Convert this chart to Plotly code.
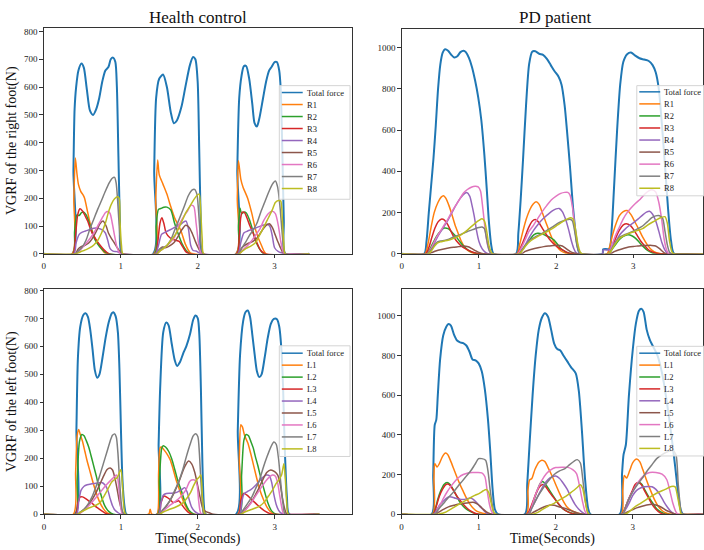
import plotly.graph_objects as go

W, H = 704, 550
SERIF = "Liberation Serif, Times New Roman, serif"
COLORS = ["#1f77b4", "#ff7f0e", "#2ca02c", "#d62728", "#9467bd",
          "#8c564b", "#e377c2", "#7f7f7f", "#bcbd22"]

RIGHT_NAMES = ["Total force", "R1", "R2", "R3", "R4", "R5", "R6", "R7", "R8"]
LEFT_NAMES = ["Total force", "L1", "L2", "L3", "L4", "L5", "L6", "L7", "L8"]
X_TICKS = [0, 1, 2, 3]

# ---------------- Health control, right foot (time s, force N) ----------------
HC_R_END = 3.45
HC_R_TOTAL = [(0.37,0),(0.385,300),(0.40,520),(0.42,600),(0.45,660),(0.49,685),(0.52,670),(0.56,590),(0.60,515),(0.64,500),(0.68,520),(0.72,560),(0.76,620),(0.80,660),(0.84,672),(0.87,700),(0.90,706),(0.93,690),(0.95,600),(0.97,350),(0.99,120),(1.02,0),
              (1.42,0),(1.435,300),(1.46,560),(1.50,630),(1.55,645),(1.60,600),(1.65,510),(1.69,470),(1.73,480),(1.79,530),(1.84,600),(1.90,680),(1.94,708),(1.97,700),(2.00,620),(2.02,380),(2.04,120),(2.06,0),
              (2.50,0),(2.515,300),(2.54,560),(2.57,640),(2.60,675),(2.63,676),(2.67,630),(2.71,540),(2.74,470),(2.77,458),(2.80,485),(2.85,560),(2.89,620),(2.93,660),(2.96,672),(3.00,690),(3.03,690),(3.06,660),(3.08,590),(3.10,380),(3.12,120),(3.14,0)]
HC_R1 = [(0.37,0),(0.39,200),(0.41,345),(0.43,290),(0.45,250),(0.48,225),(0.51,212),(0.53,200),(0.57,150),(0.61,100),(0.66,60),(0.71,35),(0.75,18),(0.81,0),
         (1.43,0),(1.455,200),(1.48,338),(1.50,285),(1.55,250),(1.60,215),(1.65,170),(1.70,130),(1.78,85),(1.84,35),(1.90,5),(1.95,0),
         (2.50,0),(2.515,200),(2.53,335),(2.56,270),(2.59,240),(2.65,200),(2.70,150),(2.76,80),(2.83,30),(2.89,0)]
HC_R2 = [(0.38,0),(0.40,80),(0.43,140),(0.46,138),(0.49,148),(0.52,150),(0.55,140),(0.58,120),(0.61,95),(0.65,60),(0.70,35),(0.75,18),(0.80,5),(0.85,0),
         (1.44,0),(1.46,100),(1.49,160),(1.52,163),(1.56,168),(1.60,168),(1.65,158),(1.70,110),(1.75,70),(1.80,35),(1.85,12),(1.90,0),
         (2.51,0),(2.53,100),(2.55,165),(2.57,145),(2.60,150),(2.63,148),(2.67,125),(2.71,90),(2.75,50),(2.80,20),(2.86,0)]
HC_R3 = [(0.38,0),(0.41,60),(0.44,140),(0.47,162),(0.50,155),(0.54,135),(0.57,118),(0.62,80),(0.68,50),(0.75,25),(0.80,10),(0.85,0),
         (1.45,0),(1.48,40),(1.51,110),(1.535,130),(1.56,110),(1.59,75),(1.64,58),(1.70,50),(1.76,45),(1.80,28),(1.845,8),(1.90,0),
         (2.51,0),(2.54,60),(2.56,130),(2.58,150),(2.61,148),(2.64,130),(2.68,100),(2.72,75),(2.77,40),(2.82,12),(2.88,0)]
HC_R4 = [(0.39,0),(0.42,40),(0.46,70),(0.50,78),(0.54,82),(0.60,88),(0.65,92),(0.70,92),(0.76,86),(0.80,75),(0.83,50),(0.86,20),(0.90,10),(0.95,8),(0.99,3),(1.02,0),
         (1.45,0),(1.49,30),(1.53,70),(1.58,78),(1.63,85),(1.70,95),(1.77,105),(1.82,115),(1.85,118),(1.88,90),(1.91,30),(1.94,12),(1.98,10),(2.02,3),(2.05,0),
         (2.52,0),(2.56,40),(2.60,75),(2.65,82),(2.71,88),(2.78,96),(2.86,104),(2.91,106),(2.94,98),(2.97,65),(3.00,22),(3.05,8),(3.10,3),(3.13,0)]
HC_R5 = [(0.41,0),(0.44,15),(0.48,25),(0.53,30),(0.58,38),(0.63,55),(0.68,80),(0.73,108),(0.77,118),(0.81,100),(0.84,75),(0.88,55),(0.92,38),(0.96,20),(1.00,5),(1.03,0),
         (1.47,0),(1.50,15),(1.54,25),(1.58,22),(1.63,28),(1.69,40),(1.74,60),(1.79,85),(1.845,103),(1.89,95),(1.93,73),(1.97,45),(2.00,26),(2.03,10),(2.06,0),
         (2.54,0),(2.57,20),(2.61,30),(2.66,38),(2.72,45),(2.78,60),(2.84,85),(2.89,102),(2.93,108),(2.97,95),(3.01,67),(3.04,45),(3.07,26),(3.10,8),(3.13,0)]
HC_R6 = [(0.42,0),(0.46,10),(0.50,22),(0.55,38),(0.60,55),(0.65,75),(0.70,100),(0.75,125),(0.80,148),(0.83,152),(0.86,146),(0.89,110),(0.92,65),(0.95,25),(0.98,5),(1.00,0),
         (1.47,0),(1.52,12),(1.58,25),(1.64,40),(1.70,60),(1.76,105),(1.82,135),(1.87,155),(1.91,175),(1.95,170),(1.98,110),(2.01,40),(2.04,5),(2.06,0),
         (2.54,0),(2.59,15),(2.65,30),(2.71,50),(2.76,70),(2.81,90),(2.86,120),(2.92,145),(2.97,153),(3.01,145),(3.05,100),(3.08,45),(3.11,8),(3.13,0)]
HC_R7 = [(0.41,0),(0.45,10),(0.50,25),(0.55,50),(0.60,90),(0.65,125),(0.70,160),(0.75,192),(0.80,225),(0.85,255),(0.89,272),(0.92,275),(0.94,255),(0.96,190),(0.98,100),(1.00,30),(1.02,0),
         (1.47,0),(1.50,15),(1.55,22),(1.60,30),(1.65,50),(1.70,85),(1.76,125),(1.82,167),(1.88,210),(1.93,230),(1.96,232),(1.99,215),(2.01,160),(2.03,80),(2.05,20),(2.07,0),
         (2.53,0),(2.57,20),(2.62,40),(2.67,65),(2.72,85),(2.77,110),(2.82,150),(2.87,185),(2.92,220),(2.97,250),(3.01,262),(3.04,240),(3.07,170),(3.10,70),(3.12,15),(3.14,0)]
HC_R8 = [(0.42,0),(0.46,5),(0.50,10),(0.55,15),(0.60,22),(0.65,32),(0.70,48),(0.75,75),(0.80,110),(0.84,150),(0.88,180),(0.92,198),(0.96,205),(0.98,200),(0.99,120),(1.01,30),(1.03,0),
         (1.47,0),(1.50,8),(1.55,18),(1.60,30),(1.65,48),(1.70,65),(1.75,90),(1.80,120),(1.85,150),(1.90,172),(1.95,195),(1.99,210),(2.02,215),(2.04,150),(2.06,50),(2.08,0),
         (2.54,0),(2.58,10),(2.63,20),(2.69,28),(2.75,40),(2.80,65),(2.86,97),(2.92,130),(2.97,158),(3.01,185),(3.05,192),(3.08,190),(3.10,130),(3.12,40),(3.14,0)]

# ---------------- PD patient, right foot ----------------
PD_R_END = 3.95
PD_R_TOTAL = [(0.29,0),(0.32,60),(0.35,200),(0.38,330),(0.41,460),(0.44,620),(0.47,800),(0.50,920),(0.53,975),(0.56,992),(0.60,985),(0.64,965),(0.68,952),(0.72,958),(0.76,978),(0.80,985),(0.83,978),(0.87,950),(0.91,905),(0.95,840),(0.99,760),(1.03,650),(1.07,480),(1.10,320),(1.13,150),(1.16,40),(1.19,0),
              (1.48,0),(1.51,100),(1.54,260),(1.57,450),(1.61,720),(1.65,920),(1.69,980),(1.73,982),(1.78,970),(1.83,965),(1.88,945),(1.93,915),(1.98,885),(2.03,860),(2.07,820),(2.11,720),(2.14,600),(2.18,420),(2.22,220),(2.26,80),(2.29,15),(2.32,0),
              (2.60,0),(2.61,22),(2.69,25),(2.72,120),(2.75,320),(2.79,600),(2.83,820),(2.87,930),(2.92,968),(2.97,976),(3.02,962),(3.08,948),(3.14,942),(3.20,935),(3.25,915),(3.29,880),(3.33,800),(3.37,630),(3.41,430),(3.45,220),(3.49,60),(3.53,0)]
PD_R1 = [(0.30,0),(0.34,50),(0.38,130),(0.42,200),(0.47,250),(0.51,275),(0.54,282),(0.57,270),(0.61,235),(0.65,190),(0.69,140),(0.73,100),(0.77,62),(0.81,35),(0.86,15),(0.92,4),(0.97,0),
         (1.49,0),(1.53,50),(1.57,110),(1.61,165),(1.66,215),(1.70,240),(1.74,252),(1.78,240),(1.82,200),(1.87,150),(1.92,100),(1.96,65),(2.01,35),(2.06,15),(2.12,4),(2.18,0),
         (2.66,0),(2.69,30),(2.73,90),(2.77,140),(2.82,185),(2.87,205),(2.92,210),(2.97,190),(3.02,155),(3.07,120),(3.12,82),(3.18,45),(3.24,18),(3.30,5),(3.36,0)]
PD_R2 = [(0.32,0),(0.36,20),(0.40,50),(0.45,85),(0.50,110),(0.55,125),(0.60,122),(0.65,105),(0.70,85),(0.75,60),(0.80,38),(0.86,18),(0.92,7),(1.00,0),
         (1.52,0),(1.56,20),(1.61,45),(1.66,70),(1.71,92),(1.76,100),(1.81,98),(1.86,90),(1.92,80),(1.97,68),(2.02,45),(2.07,22),(2.13,8),(2.20,0),
         (2.68,0),(2.72,20),(2.77,45),(2.82,70),(2.87,85),(2.93,92),(2.98,88),(3.03,75),(3.08,55),(3.13,35),(3.19,15),(3.25,4),(3.30,0)]
PD_R3 = [(0.31,0),(0.35,30),(0.39,80),(0.43,125),(0.47,155),(0.51,168),(0.55,165),(0.59,145),(0.63,115),(0.67,85),(0.71,62),(0.76,42),(0.80,30),(0.86,18),(0.92,8),(1.00,0),
         (1.50,0),(1.54,30),(1.59,75),(1.64,125),(1.69,158),(1.73,166),(1.77,155),(1.82,125),(1.87,95),(1.92,68),(1.97,48),(2.03,30),(2.09,18),(2.15,6),(2.20,0),
         (2.68,0),(2.72,30),(2.77,75),(2.82,115),(2.87,140),(2.91,146),(2.96,138),(3.00,120),(3.05,90),(3.10,60),(3.15,38),(3.20,18),(3.27,6),(3.35,0)]
PD_R4 = [(0.34,0),(0.38,20),(0.42,50),(0.46,80),(0.50,105),(0.55,135),(0.60,165),(0.65,200),(0.70,235),(0.75,265),(0.80,288),(0.84,297),(0.88,280),(0.91,235),(0.94,180),(0.97,110),(1.00,60),(1.04,25),(1.08,8),(1.12,0),
         (1.52,0),(1.56,20),(1.61,50),(1.66,85),(1.71,115),(1.77,145),(1.83,170),(1.89,190),(1.95,208),(2.00,218),(2.04,220),(2.08,205),(2.12,170),(2.16,120),(2.20,60),(2.23,25),(2.26,5),(2.29,0),
         (2.60,0),(2.61,18),(2.69,20),(2.73,40),(2.78,65),(2.83,95),(2.88,115),(2.94,135),(3.00,150),(3.06,168),(3.12,188),(3.17,202),(3.21,206),(3.25,192),(3.29,160),(3.33,110),(3.37,55),(3.41,18),(3.45,0)]
PD_R5 = [(0.35,0),(0.40,8),(0.45,15),(0.50,20),(0.56,25),(0.62,29),(0.68,32),(0.74,35),(0.80,38),(0.86,34),(0.91,25),(0.96,14),(1.01,5),(1.06,0),
         (1.55,0),(1.60,12),(1.66,20),(1.72,26),(1.78,31),(1.84,35),(1.90,38),(1.96,40),(2.02,42),(2.08,38),(2.13,25),(2.18,12),(2.23,4),(2.28,0),
         (2.70,0),(2.76,12),(2.82,20),(2.88,27),(2.94,33),(3.00,36),(3.06,38),(3.12,40),(3.18,41),(3.24,41),(3.29,38),(3.34,25),(3.39,8),(3.43,0)]
PD_R6 = [(0.33,0),(0.37,20),(0.41,50),(0.45,80),(0.50,110),(0.55,140),(0.60,170),(0.65,205),(0.70,235),(0.75,265),(0.80,295),(0.85,312),(0.90,323),(0.95,328),(0.99,325),(1.02,305),(1.05,220),(1.08,120),(1.11,45),(1.14,10),(1.17,0),
         (1.50,0),(1.55,30),(1.60,70),(1.65,110),(1.70,135),(1.76,170),(1.82,205),(1.88,235),(1.94,262),(2.00,280),(2.06,293),(2.11,298),(2.15,298),(2.18,285),(2.21,230),(2.24,140),(2.27,50),(2.30,10),(2.33,0),
         (2.68,0),(2.72,40),(2.77,90),(2.82,130),(2.87,170),(2.92,200),(2.97,222),(3.03,245),(3.09,265),(3.15,290),(3.20,305),(3.25,310),(3.29,300),(3.33,250),(3.37,160),(3.40,70),(3.43,20),(3.46,0)]
PD_R7 = [(0.33,0),(0.37,15),(0.41,35),(0.45,55),(0.50,62),(0.55,65),(0.60,70),(0.65,78),(0.70,85),(0.75,92),(0.80,100),(0.85,108),(0.90,115),(0.95,122),(1.00,128),(1.04,130),(1.07,122),(1.10,70),(1.13,20),(1.16,0),
         (1.52,0),(1.56,20),(1.61,45),(1.66,67),(1.72,80),(1.78,92),(1.84,104),(1.90,118),(1.96,132),(2.02,148),(2.08,158),(2.13,165),(2.18,168),(2.21,160),(2.24,110),(2.27,40),(2.30,5),(2.33,0),
         (2.68,0),(2.72,25),(2.77,55),(2.82,80),(2.88,92),(2.94,100),(3.00,110),(3.06,122),(3.12,135),(3.18,155),(3.24,175),(3.29,184),(3.34,185),(3.38,172),(3.41,110),(3.44,45),(3.47,8),(3.50,0)]
PD_R8 = [(0.34,0),(0.38,12),(0.42,35),(0.46,52),(0.50,58),(0.55,62),(0.60,66),(0.65,72),(0.70,80),(0.75,88),(0.80,100),(0.85,115),(0.90,132),(0.95,148),(1.00,162),(1.04,170),(1.07,160),(1.10,110),(1.13,40),(1.16,8),(1.18,0),
         (1.52,0),(1.56,15),(1.61,40),(1.66,60),(1.72,75),(1.78,88),(1.84,100),(1.90,112),(1.96,125),(2.02,140),(2.08,155),(2.14,168),(2.19,175),(2.22,168),(2.25,120),(2.28,50),(2.31,10),(2.34,0),
         (2.68,0),(2.72,20),(2.77,50),(2.82,75),(2.88,88),(2.94,98),(3.00,106),(3.06,114),(3.12,122),(3.18,138),(3.24,152),(3.30,165),(3.36,176),(3.41,180),(3.44,150),(3.47,60),(3.50,10),(3.53,0)]

# ---------------- Health control, left foot ----------------
HC_L_END = 3.58
HC_L_TOTAL = [(0.40,0),(0.42,300),(0.44,560),(0.47,670),(0.51,712),(0.54,718),(0.57,705),(0.60,660),(0.63,590),(0.66,515),(0.69,488),(0.72,500),(0.76,560),(0.80,630),(0.84,685),(0.88,718),(0.90,722),(0.93,708),(0.96,650),(0.98,520),(1.00,300),(1.02,120),(1.05,20),(1.07,0),
              (1.47,0),(1.49,250),(1.51,450),(1.55,650),(1.59,685),(1.62,675),(1.66,610),(1.70,550),(1.73,530),(1.77,545),(1.81,575),(1.85,600),(1.90,645),(1.94,695),(1.97,710),(2.00,700),(2.02,640),(2.04,450),(2.06,180),(2.08,30),(2.10,0),
              (2.50,0),(2.52,300),(2.55,570),(2.59,690),(2.62,722),(2.65,728),(2.68,705),(2.71,640),(2.74,570),(2.77,510),(2.80,490),(2.83,500),(2.87,560),(2.91,630),(2.95,680),(2.99,698),(3.03,697),(3.06,670),(3.09,580),(3.11,450),(3.13,250),(3.16,60),(3.19,0)]
HC_L1 = [(0.38,0),(0.41,150),(0.43,280),(0.45,303),(0.47,285),(0.50,260),(0.53,225),(0.56,190),(0.60,150),(0.64,110),(0.68,75),(0.72,45),(0.77,20),(0.82,5),(0.86,0),
         (1.36,0),(1.38,18),(1.40,0),
         (1.47,0),(1.49,150),(1.51,238),(1.53,240),(1.56,230),(1.60,215),(1.64,195),(1.68,160),(1.72,120),(1.77,80),(1.82,40),(1.87,15),(1.92,3),(1.95,0),
         (2.52,0),(2.54,200),(2.56,320),(2.58,312),(2.61,280),(2.65,255),(2.69,215),(2.73,170),(2.77,125),(2.81,85),(2.85,55),(2.90,25),(2.95,8),(3.00,0)]
HC_L2 = [(0.41,0),(0.43,120),(0.46,260),(0.49,285),(0.52,280),(0.55,262),(0.58,240),(0.61,210),(0.64,178),(0.68,135),(0.71,100),(0.75,60),(0.79,30),(0.84,10),(0.90,0),
         (1.48,0),(1.50,120),(1.53,235),(1.55,245),(1.58,240),(1.62,225),(1.66,198),(1.70,160),(1.74,120),(1.79,80),(1.84,38),(1.89,12),(1.95,0),
         (2.54,0),(2.57,140),(2.60,265),(2.63,285),(2.66,280),(2.69,260),(2.72,238),(2.75,205),(2.78,175),(2.82,130),(2.86,90),(2.91,42),(2.96,12),(3.02,0)]
HC_L3 = [(0.41,0),(0.44,40),(0.47,62),(0.50,62),(0.54,56),(0.58,48),(0.62,40),(0.66,30),(0.70,22),(0.75,12),(0.80,3),(0.84,0),
         (1.49,0),(1.52,40),(1.56,65),(1.60,60),(1.64,52),(1.68,42),(1.72,45),(1.75,48),(1.79,35),(1.83,20),(1.87,8),(1.92,0),
         (2.53,0),(2.56,50),(2.60,75),(2.64,68),(2.68,58),(2.73,45),(2.78,32),(2.83,20),(2.88,10),(2.94,2),(2.98,0)]
HC_L4 = [(0.42,0),(0.45,45),(0.48,85),(0.52,100),(0.56,105),(0.61,108),(0.66,110),(0.71,112),(0.75,113),(0.79,105),(0.83,85),(0.86,55),(0.89,30),(0.92,15),(0.96,6),(1.00,0),
         (1.49,0),(1.52,40),(1.55,68),(1.59,74),(1.64,75),(1.69,76),(1.74,80),(1.79,88),(1.83,95),(1.86,80),(1.89,50),(1.92,25),(1.96,10),(2.00,3),(2.04,0),
         (2.54,0),(2.57,40),(2.60,72),(2.64,80),(2.69,88),(2.74,100),(2.79,115),(2.84,130),(2.89,140),(2.93,138),(2.96,115),(2.99,70),(3.02,35),(3.05,15),(3.08,5),(3.12,0)]
HC_L5 = [(0.44,0),(0.48,8),(0.53,20),(0.58,35),(0.63,55),(0.68,80),(0.73,110),(0.78,140),(0.82,160),(0.86,165),(0.89,158),(0.92,130),(0.95,90),(0.98,45),(1.01,15),(1.04,0),
         (1.50,0),(1.54,10),(1.58,25),(1.63,45),(1.68,70),(1.73,100),(1.78,135),(1.83,170),(1.88,190),(1.92,180),(1.96,150),(2.00,100),(2.03,60),(2.06,25),(2.10,10),(2.15,5),(2.20,0),
         (2.55,0),(2.60,12),(2.66,30),(2.72,55),(2.78,85),(2.84,120),(2.90,150),(2.95,158),(3.00,152),(3.04,140),(3.07,110),(3.10,60),(3.13,20),(3.16,0)]
HC_L6 = [(0.45,0),(0.50,10),(0.56,25),(0.62,42),(0.67,58),(0.72,75),(0.77,92),(0.82,108),(0.87,122),(0.91,133),(0.94,140),(0.96,125),(0.98,70),(1.00,20),(1.02,0),
         (1.50,0),(1.55,12),(1.62,28),(1.69,42),(1.75,55),(1.80,70),(1.85,90),(1.89,115),(1.92,122),(1.96,122),(1.99,105),(2.01,50),(2.03,10),(2.05,0),
         (2.56,0),(2.62,15),(2.68,35),(2.74,60),(2.80,85),(2.86,110),(2.92,130),(2.97,140),(3.01,136),(3.04,110),(3.07,60),(3.10,15),(3.12,0)]
HC_L7 = [(0.43,0),(0.47,8),(0.52,18),(0.57,35),(0.62,60),(0.67,95),(0.72,135),(0.77,180),(0.82,225),(0.86,262),(0.89,282),(0.92,287),(0.94,275),(0.96,220),(0.98,130),(1.00,50),(1.02,10),(1.04,0),
         (1.50,0),(1.54,15),(1.59,30),(1.65,55),(1.70,85),(1.75,115),(1.80,155),(1.85,205),(1.90,250),(1.94,280),(1.97,288),(2.00,278),(2.02,220),(2.04,120),(2.06,40),(2.08,0),
         (2.55,0),(2.59,15),(2.64,35),(2.70,60),(2.75,90),(2.80,120),(2.85,165),(2.90,205),(2.95,240),(2.99,258),(3.02,250),(3.05,200),(3.08,110),(3.11,35),(3.14,0)]
HC_L8 = [(0.44,0),(0.48,8),(0.53,15),(0.58,22),(0.63,27),(0.68,33),(0.73,42),(0.78,65),(0.83,90),(0.88,115),(0.92,125),(0.95,130),(0.98,150),(1.00,160),(1.02,100),(1.04,20),(1.06,0),
         (1.50,0),(1.55,8),(1.62,16),(1.70,24),(1.76,32),(1.81,42),(1.86,58),(1.91,80),(1.95,105),(1.99,125),(2.02,133),(2.04,140),(2.06,60),(2.08,10),(2.10,0),
         (2.56,0),(2.61,8),(2.68,15),(2.75,22),(2.81,30),(2.87,45),(2.92,65),(2.97,85),(3.02,110),(3.06,125),(3.09,140),(3.12,180),(3.14,120),(3.16,30),(3.18,0)]

# ---------------- PD patient, left foot ----------------
PD_L_END = 3.95
PD_L_TOTAL = [(0.39,0),(0.41,200),(0.43,450),(0.45,475),(0.47,600),(0.50,780),(0.54,900),(0.58,945),(0.61,958),(0.64,950),(0.68,905),(0.72,875),(0.76,866),(0.80,862),(0.84,850),(0.88,820),(0.92,780),(0.96,775),(1.00,760),(1.04,720),(1.08,630),(1.12,480),(1.15,320),(1.18,130),(1.21,25),(1.25,0),
              (1.60,0),(1.63,150),(1.66,350),(1.70,600),(1.74,800),(1.78,930),(1.82,990),(1.86,1013),(1.90,995),(1.94,930),(1.98,860),(2.02,832),(2.06,825),(2.10,800),(2.15,770),(2.20,740),(2.26,710),(2.30,620),(2.34,420),(2.38,180),(2.42,30),(2.45,0),
              (2.83,0),(2.86,200),(2.88,300),(2.91,350),(2.95,600),(3.00,830),(3.04,960),(3.08,1025),(3.11,1035),(3.14,1020),(3.18,930),(3.22,880),(3.27,840),(3.32,800),(3.38,710),(3.44,570),(3.50,400),(3.55,240),(3.59,100),(3.62,25),(3.65,0)]
PD_L1 = [(0.40,0),(0.42,180),(0.43,255),(0.46,238),(0.49,255),(0.53,290),(0.57,308),(0.60,300),(0.64,265),(0.68,225),(0.72,185),(0.76,148),(0.80,115),(0.84,82),(0.88,55),(0.93,30),(0.98,14),(1.05,5),(1.12,0),
         (1.62,0),(1.64,120),(1.66,172),(1.69,180),(1.73,225),(1.78,262),(1.82,272),(1.86,265),(1.90,235),(1.95,195),(2.00,150),(2.05,105),(2.10,65),(2.15,35),(2.22,15),(2.30,4),(2.36,0),
         (2.85,0),(2.87,120),(2.89,195),(2.92,182),(2.96,220),(3.00,260),(3.05,278),(3.09,265),(3.13,225),(3.18,170),(3.23,120),(3.28,75),(3.33,40),(3.39,15),(3.45,4),(3.50,0)]
PD_L2 = [(0.41,0),(0.44,30),(0.47,75),(0.51,120),(0.55,150),(0.59,160),(0.63,150),(0.67,125),(0.71,95),(0.75,65),(0.80,40),(0.86,20),(0.92,8),(1.00,0),
         (1.64,0),(1.68,30),(1.72,75),(1.76,120),(1.80,155),(1.83,165),(1.87,150),(1.92,120),(1.97,90),(2.02,60),(2.07,35),(2.13,18),(2.20,6),(2.28,0),
         (2.86,0),(2.90,30),(2.94,70),(2.99,110),(3.04,145),(3.08,160),(3.12,150),(3.16,120),(3.21,85),(3.26,55),(3.31,28),(3.37,10),(3.43,0)]
PD_L3 = [(0.41,0),(0.45,40),(0.49,90),(0.53,125),(0.57,148),(0.60,152),(0.64,140),(0.68,115),(0.72,90),(0.76,70),(0.80,50),(0.85,30),(0.90,15),(0.95,5),(1.00,0),
         (1.63,0),(1.67,30),(1.71,70),(1.75,110),(1.79,138),(1.83,150),(1.87,138),(1.92,110),(1.97,85),(2.02,60),(2.07,38),(2.12,20),(2.18,8),(2.25,0),
         (2.86,0),(2.90,30),(2.94,70),(2.99,115),(3.03,150),(3.07,160),(3.11,150),(3.15,120),(3.20,85),(3.25,50),(3.30,25),(3.35,8),(3.40,0)]
PD_L4 = [(0.42,0),(0.46,25),(0.50,50),(0.54,65),(0.58,80),(0.62,88),(0.66,86),(0.70,80),(0.75,76),(0.80,74),(0.85,78),(0.89,82),(0.93,75),(0.97,60),(1.01,42),(1.05,26),(1.09,10),(1.13,0),
         (1.64,0),(1.68,25),(1.72,55),(1.76,85),(1.80,115),(1.85,150),(1.90,175),(1.95,188),(2.00,192),(2.05,180),(2.10,155),(2.15,125),(2.20,85),(2.25,50),(2.30,25),(2.35,8),(2.39,0),
         (2.86,0),(2.90,20),(2.95,55),(3.00,95),(3.05,120),(3.10,132),(3.15,138),(3.20,140),(3.25,138),(3.30,125),(3.35,100),(3.40,65),(3.45,35),(3.50,12),(3.55,0)]
PD_L5 = [(0.44,0),(0.48,10),(0.53,22),(0.58,32),(0.63,40),(0.68,45),(0.73,50),(0.80,54),(0.87,58),(0.93,60),(0.98,52),(1.02,40),(1.06,25),(1.10,12),(1.15,3),(1.20,0),
         (1.66,0),(1.71,10),(1.76,20),(1.81,30),(1.87,40),(1.93,46),(1.98,45),(2.04,38),(2.10,32),(2.16,24),(2.22,15),(2.28,6),(2.35,0),
         (2.88,0),(2.93,12),(2.99,22),(3.05,32),(3.12,40),(3.18,46),(3.25,50),(3.31,45),(3.37,35),(3.43,20),(3.50,8),(3.56,0)]
PD_L6 = [(0.43,0),(0.47,25),(0.51,55),(0.55,85),(0.59,112),(0.64,140),(0.69,165),(0.74,185),(0.80,200),(0.86,208),(0.92,210),(0.98,210),(1.04,208),(1.08,190),(1.11,120),(1.14,50),(1.17,12),(1.20,0),
         (1.65,0),(1.69,40),(1.73,90),(1.77,130),(1.82,170),(1.88,205),(1.94,225),(2.00,235),(2.08,237),(2.16,236),(2.22,225),(2.27,205),(2.31,140),(2.35,60),(2.38,15),(2.41,0),
         (2.87,0),(2.91,40),(2.95,80),(3.00,115),(3.05,150),(3.10,178),(3.16,200),(3.22,210),(3.30,210),(3.38,202),(3.44,175),(3.48,120),(3.52,55),(3.56,12),(3.59,0)]
PD_L7 = [(0.43,0),(0.47,20),(0.51,40),(0.56,62),(0.61,85),(0.67,110),(0.73,140),(0.79,168),(0.84,192),(0.90,220),(0.95,250),(1.00,280),(1.04,280),(1.09,272),(1.12,220),(1.15,120),(1.18,40),(1.21,0),
         (1.65,0),(1.69,30),(1.74,70),(1.80,110),(1.86,145),(1.92,175),(1.98,200),(2.05,218),(2.12,230),(2.18,250),(2.24,268),(2.28,275),(2.32,258),(2.35,180),(2.38,80),(2.41,15),(2.43,0),
         (2.87,0),(2.91,40),(2.96,85),(3.01,120),(3.07,155),(3.13,185),(3.19,220),(3.25,250),(3.31,280),(3.38,300),(3.45,315),(3.52,320),(3.56,300),(3.59,150),(3.62,30),(3.64,0)]
PD_L8 = [(0.48,0),(0.53,5),(0.58,12),(0.65,28),(0.72,45),(0.80,62),(0.88,80),(0.95,95),(1.01,105),(1.06,118),(1.10,124),(1.13,110),(1.16,60),(1.19,15),(1.22,0),
         (1.70,0),(1.76,8),(1.82,22),(1.90,40),(1.98,55),(2.05,72),(2.13,90),(2.20,110),(2.27,132),(2.32,148),(2.35,130),(2.38,70),(2.41,15),(2.43,0),
         (2.90,0),(2.96,15),(3.02,35),(3.10,55),(3.18,75),(3.26,95),(3.34,112),(3.42,125),(3.50,140),(3.55,138),(3.58,90),(3.61,30),(3.63,0)]

PANELS = [
    dict(series=[HC_R_TOTAL, HC_R1, HC_R2, HC_R3, HC_R4, HC_R5, HC_R6, HC_R7, HC_R8],
         names=RIGHT_NAMES, end=HC_R_END, xa="x", ya="y"),
    dict(series=[PD_R_TOTAL, PD_R1, PD_R2, PD_R3, PD_R4, PD_R5, PD_R6, PD_R7, PD_R8],
         names=RIGHT_NAMES, end=PD_R_END, xa="x2", ya="y2"),
    dict(series=[HC_L_TOTAL, HC_L1, HC_L2, HC_L3, HC_L4, HC_L5, HC_L6, HC_L7, HC_L8],
         names=LEFT_NAMES, end=HC_L_END, xa="x3", ya="y3"),
    dict(series=[PD_L_TOTAL, PD_L1, PD_L2, PD_L3, PD_L4, PD_L5, PD_L6, PD_L7, PD_L8],
         names=LEFT_NAMES, end=PD_L_END, xa="x4", ya="y4"),
]

fig = go.Figure()
for p in PANELS:
    for i, (pts, name) in enumerate(zip(p["series"], p["names"])):
        t = [0.0] + [a for a, _ in pts] + [p["end"]]
        v = [0.0] + [b for _, b in pts] + [0.0]
        fig.add_trace(go.Scatter(
            x=t, y=v, mode="lines", name=name, showlegend=False,
            xaxis=p["xa"], yaxis=p["ya"],
            line=dict(color=COLORS[i], width=2.0 if i == 0 else 1.5,
                      shape="spline", smoothing=0.7),
            hoverinfo="skip"))

def px_x(px):
    return px / W

def px_y(py):
    return 1 - py / H

def axis_style(**kw):
    d = dict(showgrid=False, zeroline=False, showline=True, mirror=True,
             linecolor="#333333", linewidth=1, ticks="outside", ticklen=3.5,
             tickwidth=0.8, tickcolor="#333333", fixedrange=True,
             tickfont=dict(family=SERIF, size=9, color="#222222"))
    d.update(kw)
    return d

TITLE_FONT = dict(family=SERIF, size=14, color="#111111")
fig.update_layout(
    width=W, height=H, autosize=False,
    margin=dict(l=0, r=0, t=0, b=0),
    paper_bgcolor="white", plot_bgcolor="white",
    xaxis=axis_style(domain=[px_x(42), px_x(351)], range=[0, 4.0], tickvals=X_TICKS, anchor="y"),
    yaxis=axis_style(domain=[px_y(254), px_y(24)], range=[0, 814], tickvals=list(range(0, 801, 100)), anchor="x",
                     title=dict(text="VGRF of the right foot(N)", font=TITLE_FONT, standoff=4)),
    xaxis2=axis_style(domain=[px_x(401.5), 1.0], range=[0, 3.903], tickvals=X_TICKS, anchor="y2"),
    yaxis2=axis_style(domain=[px_y(254), px_y(25)], range=[0, 1092], tickvals=list(range(0, 1001, 200)), anchor="x2"),
    xaxis3=axis_style(domain=[px_x(42.3), px_x(351)], range=[0, 4.0], tickvals=X_TICKS, anchor="y3",
                      title=dict(text="Time(Seconds)", font=TITLE_FONT, standoff=1)),
    yaxis3=axis_style(domain=[px_y(518.7), px_y(290)], range=[0, 804], tickvals=list(range(0, 801, 100)), anchor="x3",
                      title=dict(text="VGRF of the left foot(N)", font=TITLE_FONT, standoff=4)),
    xaxis4=axis_style(domain=[px_x(401.3), 1.0], range=[0, 3.911], tickvals=X_TICKS, anchor="y4",
                      title=dict(text="Time(Seconds)", font=TITLE_FONT, standoff=1)),
    yaxis4=axis_style(domain=[px_y(518.7), px_y(289.7)], range=[0, 1135], tickvals=list(range(0, 1001, 200)), anchor="x4"),
)

# panel titles
for text, cx in [("Health control", 197), ("PD patient", 556)]:
    fig.add_annotation(xref="paper", yref="paper", x=px_x(cx), y=px_y(14), text=text,
                       showarrow=False, xanchor="center", yanchor="middle",
                       font=dict(family=SERIF, size=17, color="#111111"))

# legends drawn compactly (matplotlib-style spacing)
def add_legend(names, bx0, by0, bx1, by1, row0, step, lx0, lx1, tx):
    fig.add_shape(type="rect", xref="paper", yref="paper", layer="above",
                  x0=px_x(bx0), x1=px_x(bx1), y0=px_y(by1), y1=px_y(by0),
                  fillcolor="rgba(255,255,255,0.8)", line=dict(color="#d4d4d4", width=1))
    for i, name in enumerate(names):
        yy = row0 + i * step
        fig.add_shape(type="line", xref="paper", yref="paper", layer="above",
                      x0=px_x(lx0), x1=px_x(lx1), y0=px_y(yy), y1=px_y(yy),
                      line=dict(color=COLORS[i], width=1.5))
        fig.add_annotation(xref="paper", yref="paper", x=px_x(tx), y=px_y(yy), text=name,
                           showarrow=False, xanchor="left", yanchor="middle",
                           font=dict(family=SERIF, size=8.5, color="#222222"))

add_legend(RIGHT_NAMES, 278.5, 83, 349.5, 198.5, 90, 12.2, 281, 302, 304)
add_legend(RIGHT_NAMES, 637.5, 83, 708, 195, 89.3, 12.25, 640, 661, 663)
add_legend(LEFT_NAMES, 278.5, 347.5, 349.5, 460, 355, 12.16, 281, 302, 304)
add_legend(LEFT_NAMES, 637.5, 348, 708, 459.5, 355, 12.1, 640, 661, 663)

fig.write_html("out.html", config={"displayModeBar": False},
               post_script="document.body.style.margin='0';document.body.style.overflow='hidden';")
